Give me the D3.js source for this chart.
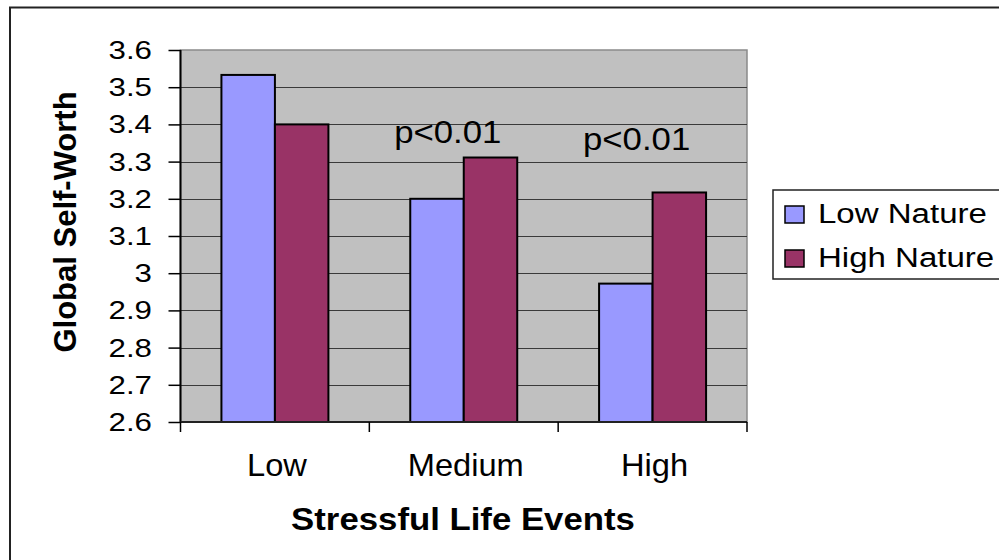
<!DOCTYPE html>
<html><head><meta charset="utf-8">
<script src="https://cdn.jsdelivr.net/npm/d3@7"></script>
<style>html,body{margin:0;padding:0;background:#fff;}svg{display:block;}</style>
</head><body>
<svg id="c" width="999" height="560"></svg>
<script>
const categories = ["Low", "Medium", "High"];
const seriesNames = ["Low Nature", "High Nature"];
const lowNature = [3.533, 3.20, 2.972];
const highNature = [3.40, 3.311, 3.217];
const yTicks = [2.6, 2.7, 2.8, 2.9, 3.0, 3.1, 3.2, 3.3, 3.4, 3.5, 3.6];
const yTickLabels = ["2.6", "2.7", "2.8", "2.9", "3", "3.1", "3.2", "3.3", "3.4", "3.5", "3.6"];
const annotCats = ["Medium", "High"];
const annotValues = [3.351, 3.331];
const annotTexts = ["p<0.01", "p<0.01"];
const colors = ["#9999ff", "#993366"];

const svg = d3.select("#c");
const FONT = "'Liberation Sans', Arial, sans-serif";
const L = 180.5, R = 747, T = 50, B = 422;

// outer border
svg.append("rect").attr("x", 10).attr("y", 7.5).attr("width", 1000).attr("height", 600)
  .attr("fill", "#fff").attr("stroke", "#222").attr("stroke-width", 2);

const x = d3.scaleBand().domain(categories).range([L, R]).paddingInner(0).paddingOuter(0);
const xs = d3.scaleBand().domain(seriesNames).range([0, x.bandwidth()]).paddingInner(0).paddingOuter(0.765);
const y = d3.scaleLinear().domain([2.6, 3.6]).range([B, T]);

function stext(g, str, px, py, size, sx, anchor, weight) {
  return g.append("text").text(str)
    .attr("transform", `translate(${px},${py}) scale(${sx},1)`)
    .attr("text-anchor", anchor || "start")
    .attr("font-family", FONT).attr("font-size", size)
    .attr("font-weight", weight || "normal").attr("fill", "#000");
}

// plot area
svg.append("rect").attr("x", L).attr("y", T).attr("width", R - L).attr("height", B - T)
  .attr("fill", "#c0c0c0").attr("stroke", "#8a8a8a").attr("stroke-width", 1.5);

// gridlines
svg.append("g").selectAll("line").data(yTicks.slice(1, -1)).join("line")
  .attr("x1", L).attr("x2", R)
  .attr("y1", d => Math.round(y(d)) + 0.5).attr("y2", d => Math.round(y(d)) + 0.5)
  .attr("stroke", "#3a3a3a").attr("stroke-width", 1);

// bars
const rows = categories.map((c, i) => ({ cat: c, vals: [lowNature[i], highNature[i]] }));
const gb = svg.append("g");
rows.forEach(r => {
  r.vals.forEach((v, j) => {
    gb.append("rect")
      .attr("x", x(r.cat) + xs(seriesNames[j]))
      .attr("y", y(v))
      .attr("width", xs.bandwidth())
      .attr("height", y(2.6) - y(v))
      .attr("fill", colors[j]).attr("stroke", "#000").attr("stroke-width", 2);
  });
});

// axes
const ya = svg.append("g").attr("transform", `translate(${L},0)`)
  .call(d3.axisLeft(y).tickValues(yTicks).tickSize(12).tickFormat(""));
ya.select(".domain").attr("stroke", "#000").attr("stroke-width", 2).attr("d", `M0,${T}V${B}`);
ya.selectAll(".tick line").attr("stroke", "#000").attr("stroke-width", 1.5);

const xa = svg.append("g").attr("transform", `translate(0,${B})`)
  .call(d3.axisBottom(x).tickValues([]).tickSize(0));
xa.select(".domain").attr("stroke", "#222").attr("stroke-width", 2).attr("d", `M${L},0H${R}`);
const bounds = categories.map(c => x(c)).concat([R]);
xa.selectAll(".xt").data(bounds).join("line").attr("class", "xt")
  .attr("x1", d => d).attr("x2", d => d).attr("y1", 0).attr("y2", 10)
  .attr("stroke", "#000").attr("stroke-width", 1.5);

// y tick labels
yTicks.forEach((t, i) => {
  stext(svg, yTickLabels[i], 152, y(t) + 9, 25, 1.25, "end");
});

// category labels
categories.forEach(c => {
  stext(svg, c, x(c) + x.bandwidth() / 2 + 2, 476, 30.5, 1.07, "middle");
});

// annotations
annotCats.forEach((c, i) => {
  stext(svg, annotTexts[i], x(c) + x.bandwidth() / 2 - 16, y(annotValues[i]), 30.5, 1.14, "middle");
});

// axis titles
stext(svg, "Stressful Life Events", 463, 530, 30.5, 1.14, "middle", "bold");
svg.append("text").text("Global Self-Worth")
  .attr("transform", `translate(76,222) rotate(-90)`)
  .attr("text-anchor", "middle").attr("font-family", FONT).attr("font-size", 31)
  .attr("font-weight", "bold").attr("fill", "#000");

// legend
const lg = svg.append("g");
lg.append("rect").attr("x", 773).attr("y", 190).attr("width", 240).attr("height", 89)
  .attr("fill", "#fff").attr("stroke", "#222").attr("stroke-width", 1.5);
seriesNames.forEach((s, i) => {
  const yy = 206 + i * 44;
  lg.append("rect").attr("x", 785).attr("y", yy).attr("width", 19).attr("height", 17)
    .attr("fill", colors[i]).attr("stroke", "#000").attr("stroke-width", 1.5);
  stext(lg, s, 818, yy + 17, 28, 1.18, "start");
});
</script>
</body></html>
